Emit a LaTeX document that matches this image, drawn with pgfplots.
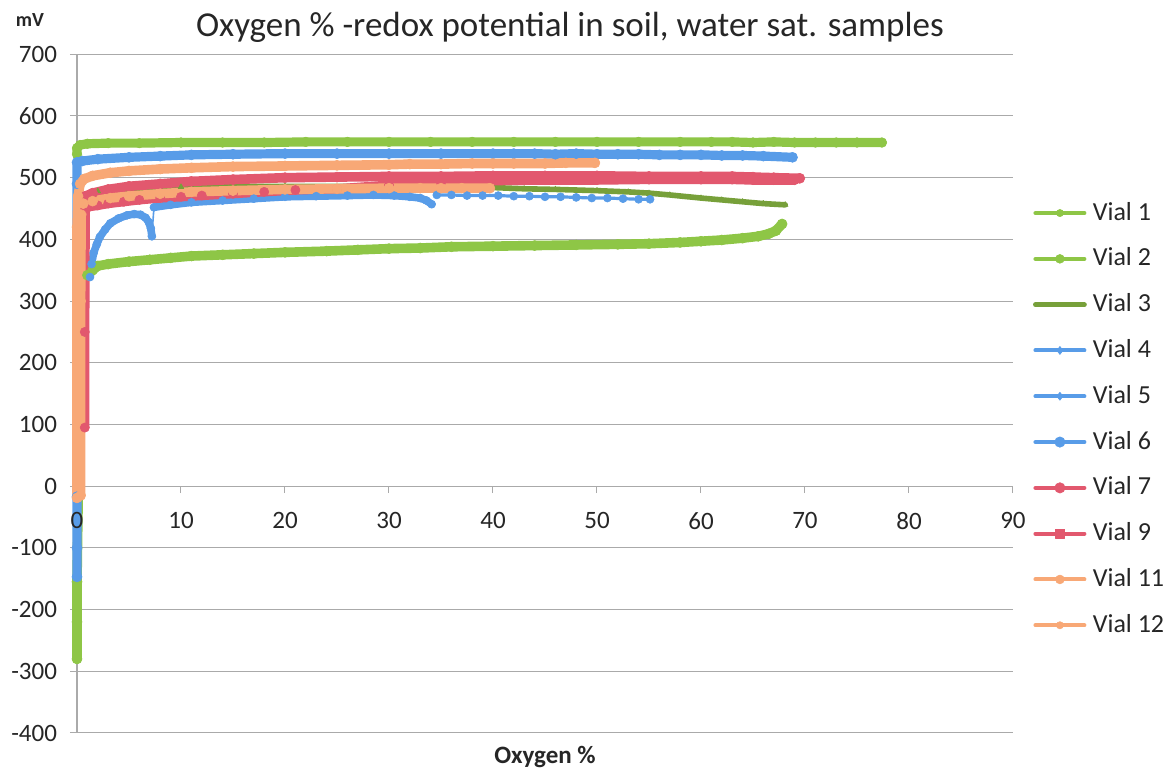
\documentclass[border=0pt]{standalone}
\usepackage{fontspec}
\setmainfont{Carlito}
\usepackage{pgfplots}
\pgfplotsset{compat=1.18}

\definecolor{vgreen}{RGB}{142,198,70}
\definecolor{vdgreen}{RGB}{119,160,58}
\definecolor{vblue}{RGB}{88,156,232}
\definecolor{vred}{RGB}{226,88,110}
\definecolor{vorange}{RGB}{248,168,118}
\definecolor{gridgray}{RGB}{170,170,170}

\pgfplotsset{
  redoxframe/.style={
    at={(38.5pt,18.5pt)}, anchor=south west,
    scale only axis, width=468pt, height=339.35pt,
    xmin=0, xmax=90, ymin=-400, ymax=700,
    axis x line*=middle, axis y line*=left,
    hide obscured x ticks=false,
    tick align=outside, major tick length=3.5pt,
    clip=false,
    /pgf/number format/assume math mode=true,
    tick label style={font=\fontsize{12.5pt}{14pt}\selectfont, text=black!85},
    xticklabel style={yshift=-6pt},
    yticklabel style={xshift=-3pt},
  },
}

\begin{document}
\begin{tikzpicture}
\useasboundingbox (0,0) rectangle (583pt,385pt);
\begin{axis}[
  redoxframe,
  xtick={10,20,...,90}, ytick={-400,-300,...,700},
  ymajorgrids, grid style={draw=gridgray, line width=0.5pt},
  axis line style={draw=gridgray, line width=0.6pt},
  tick style={draw=gridgray, line width=0.5pt},
  title={Oxygen \% -redox potential in soil, water sat. samples},
  title style={at={(0.5267,1.0398)}, anchor=center, yshift=-6pt,
    font=\fontsize{17.5pt}{20pt}\selectfont, text=black!85},
  xlabel={\textbf{Oxygen \%}},
  xlabel style={at={(0.5,-0.0353)}, anchor=center,
    font=\fontsize{12.5pt}{14pt}\selectfont, text=black!85},
  ylabel={\textbf{mV}},
  ylabel style={at={(-0.0502,1.05)}, anchor=center, rotate=-90,
    font=\fontsize{10pt}{12pt}\selectfont, text=black!85},
  legend image code/.code={\draw[mark repeat=2,mark phase=2]
    plot coordinates {(0pt,0pt)(12.25pt,0pt)(24.5pt,0pt)};},
  legend style={at={(1.0214,0.4624)}, anchor=west, draw=none, fill=none,
    inner sep=0pt, outer sep=0pt, row sep=9.9pt,
    font=\fontsize{13pt}{15pt}\selectfont, text=black!85,
    nodes={inner xsep=3pt, inner ysep=0pt, text height=10pt, text depth=3pt}},
  legend cell align=left,
  every axis plot/.append style={line join=round, line cap=round,
    mark options={solid, line width=0.3pt}},
]

% Vial 1
\addplot[forget plot, color=vgreen, line width=4.6pt, mark=*, mark size=2.4pt] coordinates {
 (0,538) (0,548) (0.3,553) (1,555) (3,556) (6,556) (10,557) (14,557) (18,557)
 (22,558) (26,558) (30,558) (34,558) (38,558) (42,558) (46,558) (50,558)
 (54,558) (58,558) (61,558) (63,558) (65,557) (67,558) (69,557) (71,557)
 (73,557) (75,557) (77.4,557)};
% Vial 2
\addplot[forget plot, color=vgreen, line width=4.8pt, mark=*, mark size=2.5pt] coordinates {
 (0,-280) (0,-220) (0,-155)};
\addplot[forget plot, color=vgreen, line width=4.8pt] coordinates {
 (0,-155) (0.4,330) (1.0,342)};
\addplot[forget plot, color=vgreen, line width=4.8pt, mark=*, mark size=2.5pt] coordinates {
 (1.0,342) (1.5,350) (2.0,357) (3,360) (5,364)
 (7,367) (9,370) (11,373) (14,375) (17,377) (20,379) (24,381) (27,383)
 (30,385) (33,386) (36,388) (40,389) (44,390) (48,391) (52,392) (55,393)
 (58,395) (60,397) (62,399) (64,402) (65.5,405) (66.5,409) (67.2,414) (67.8,425)};
% Vial 3
\addplot[forget plot, color=vdgreen, line width=2.8pt, mark=triangle*, mark size=1.6pt] coordinates {
 (0.5,470) (2,478) (5,482) (10,485) (20,486) (30,486) (40,484) (43,482)
 (46,481) (50,479) (53,477) (55,475) (57,472) (60,467) (62,464) (64,461)
 (66,458) (68.1,456)};
% Vial 4
\addplot[forget plot, color=vblue, line width=3.8pt, mark=*, mark size=2pt] coordinates {
 (1.25,339) (1.4,360) (1.6,378) (1.9,392) (2.2,404) (2.7,416) (3.2,426)
 (4.0,434) (4.8,439) (5.5,441) (6.1,440) (6.6,435) (6.9,428) (7.1,418)
 (7.2,405)};
\addplot[forget plot, color=vblue, line width=0.8pt] coordinates {(7.2,405) (7.4,452)};
\addplot[forget plot, color=vblue, line width=3.8pt, mark=*, mark size=2pt] coordinates {
 (7.4,452) (9,456) (11,460) (14,463) (17,466) (20,469) (23,470) (26,471)
 (28.5,472) (30.5,471) (32,469) (33,467) (33.6,463) (34.1,457)};
% Vial 5
\addplot[forget plot, color=vblue, line width=1.6pt, mark=*, mark size=2pt] coordinates {
 (34.6,472) (36,472) (37.5,471) (39,471) (40.5,471) (42,470) (43.5,470)
 (45,469) (46.5,469) (48,468) (49.5,467) (51,467) (52.5,466) (54,465) (55.1,465)};
% Vial 6
\addplot[forget plot, color=vblue, line width=4.6pt, mark=*, mark size=2.5pt] coordinates {
 (0,-147) (0,-100) (0,-60) (0,-17) (0,490) (0,525) (0.5,527) (2,530) (5,533)
 (8,535) (11,537) (15,538) (20,539) (25,539) (30,539) (35,539) (40,539)
 (42,539) (44,539) (46,538) (48,539) (50,538) (52,538) (54,538) (56,537)
 (58,537) (60,537) (62,536) (64,536) (66,535) (68.8,533)};
% Vial 7
\addplot[forget plot, color=vred, line width=4.6pt, mark=*, mark size=2.3pt] coordinates {
 (0.75,95) (0.75,250) (0.8,450) (1.2,453) (2,455) (3,458) (4.5,461) (6,464)
 (8,467) (10,469) (12,471) (15,474) (18,477) (21,480) (25,482) (30,488)
 (35,492) (40,495) (45,496) (50,496) (55,497) (60,497) (63,497) (65,496)
 (67,496) (69,496)};
% Vial 9
\addplot[forget plot, color=vred, line width=4.8pt, mark=*, mark size=2.5pt] coordinates {
 (0.8,470) (1.5,475) (3,481) (5,486) (8,490) (11,494) (15,497) (20,500)
 (25,501) (30,502) (35,502) (40,503) (45,503) (50,503) (55,502) (60,502)
 (63,502) (65,501) (67,500) (69.5,499)};
% Vial 11
\addplot[forget plot, color=vorange, line width=4.8pt, mark=*, mark size=2.5pt] coordinates {
 (0,-19) (0,200) (0,420) (0.1,470) (0.3,490) (0.7,498) (1.5,503) (3.2,508)
 (5,511) (8,514) (11,516) (15,518) (20,519) (25,520) (30,521) (32,522)
 (35,522) (38,523) (40,523) (42,523) (45,523) (47,524) (49.8,524)};
% Vial 12
\addplot[forget plot, color=vorange, line width=4.8pt, mark=*, mark size=2.5pt] coordinates {
 (0.35,-15) (0.35,300) (0.4,440) (0.6,458) (1.5,462) (3.2,467) (5,470)
 (8,474) (11,477) (15,479) (20,481) (25,482) (30,483) (33,483) (35,483)
 (37,483) (39.7,483)};

\addlegendimage{color=vgreen, line width=2pt, mark=*, mark size=1.8pt}
\addlegendentry{Vial 1}
\addlegendimage{color=vgreen, line width=2pt, mark=*, mark size=2.2pt}
\addlegendentry{Vial 2}
\addlegendimage{color=vdgreen, line width=2.4pt}
\addlegendentry{Vial 3}
\addlegendimage{color=vblue, line width=2pt, mark=diamond*, mark size=2pt}
\addlegendentry{Vial 4}
\addlegendimage{color=vblue, line width=2pt, mark=diamond*, mark size=2pt}
\addlegendentry{Vial 5}
\addlegendimage{color=vblue, line width=2pt, mark=*, mark size=2.6pt}
\addlegendentry{Vial 6}
\addlegendimage{color=vred, line width=2pt, mark=*, mark size=2.6pt}
\addlegendentry{Vial 7}
\addlegendimage{color=vred, line width=2pt, mark=square*, mark size=2.4pt}
\addlegendentry{Vial 9}
\addlegendimage{color=vorange, line width=2pt, mark=*, mark size=2.2pt}
\addlegendentry{Vial 11}
\addlegendimage{color=vorange, line width=2pt, mark=*, mark size=1.8pt}
\addlegendentry{Vial 12}
\end{axis}
% the "0" on the horizontal axis sits above the series at the origin
\begin{axis}[
  redoxframe,
  xtick={0}, ytick=\empty,
  axis line style={draw=none}, tick style={draw=none},
]
\end{axis}
\end{tikzpicture}
\end{document}
